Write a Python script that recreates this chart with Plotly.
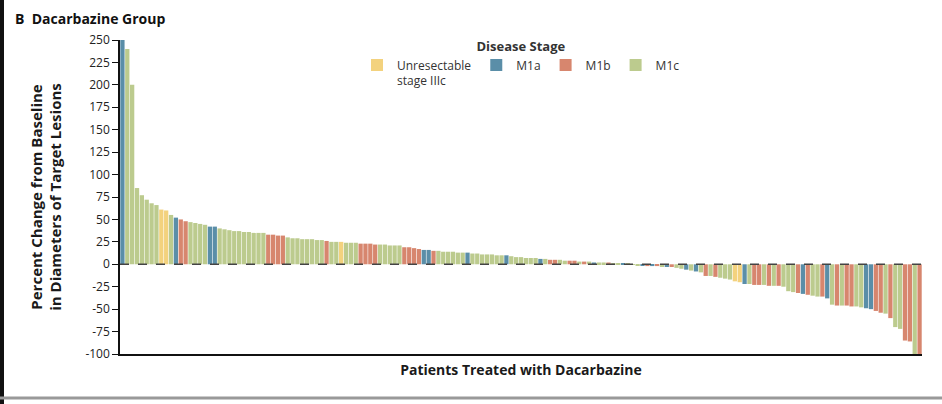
import plotly.graph_objects as go

# Percent change from baseline per patient (sorted waterfall)
values = [
    250, 240, 200, 85, 77, 72, 68, 66, 61, 60,
    55, 52, 50, 48, 47, 46, 45, 44, 42, 42,
    40, 39, 38, 37, 37, 36, 36, 35, 35, 35,
    33, 33, 32, 32, 30, 29, 29, 28, 28, 28,
    27, 27, 26, 25, 25, 25, 24, 24, 24, 23,
    23, 23, 22, 22, 22, 21, 21, 21, 19, 19,
    18, 17, 16, 16, 15, 15, 14, 14, 14, 13,
    13, 13, 12, 12, 11, 11, 11, 10, 10, 10,
    9, 8, 8, 7, 7, 7, 6, 6, 5, 5,
    5, 4, 4, 4, 3, 3, 3, 2, 2, 2,
    2, 1, 1, 1, 0.5, 0.3, -1, -1, -2, -2,
    -2, -3, -3, -3, -4, -5, -6, -7, -8, -9,
    -13, -13, -14, -15, -16, -17, -19, -20, -22, -22,
    -23, -23, -23, -24, -24, -24, -25, -30, -31, -32,
    -33, -34, -35, -36, -36, -38, -45, -46, -46, -46,
    -47, -47, -48, -49, -50, -52, -54, -55, -60, -70,
    -72, -85, -86, -100, -100,
]
# Disease stage per patient: U = unresectable IIIc, a = M1a, b = M1b, c = M1c
stages = list(
    "acccccccUU"
    "cabbccccaa"
    "cccccccccc"
    "bbbbcccccc"
    "ccbccUcccb"
    "bbbcccccbb"
    "bbaabccccc"
    "caccccccca"
    "ccccccacbb"
    "ccbbcbcacc"
    "bccacccaba"
    "bcabccacac"
    "bcbcccUUac"
    "bbcbcbcccb"
    "abccbacbcb"
    "bccaabbcbc"
    "cbbcb"
)

stage_names = ["Unresectable<br>stage IIIc", "M1a", "M1b", "M1c"]
stage_codes = ["U", "a", "b", "c"]
stage_colors = ["#f3d27e", "#5a8ea8", "#d7866e", "#bccb8e"]
color_map = dict(zip(stage_codes, stage_colors))

ytick_vals = list(range(-100, 251, 25))
ytick_text = [str(v) for v in ytick_vals]

patients = list(range(1, len(values) + 1))

fig = go.Figure()
fig.add_trace(go.Bar(
    x=patients, y=values,
    marker=dict(color=[color_map[s] for s in stages], line=dict(width=0)),
    showlegend=False, hoverinfo="skip",
))
for name, col in zip(stage_names, stage_colors):
    fig.add_trace(go.Bar(x=[None], y=[None], name=name,
                         marker=dict(color=col, line=dict(width=0))))

font_family = "Open Sans, Noto Sans, sans-serif"

fig.update_layout(
    width=942, height=404,
    margin=dict(l=120, r=20, t=40, b=50),
    paper_bgcolor="white", plot_bgcolor="white",
    barmode="overlay", bargap=0.12,
    font=dict(family=font_family, color="#1a1a1a", size=12),
    showlegend=True,
    legend=dict(
        orientation="h", x=0.5, xanchor="center", y=1.02, yanchor="top",
        title=dict(text="<b>Disease Stage</b>", side="top center",
                   font=dict(size=13)),
        font=dict(size=12, color="#333"), valign="top",
        bgcolor="rgba(0,0,0,0)", itemclick=False,
    ),
)
fig.update_xaxes(
    range=[0.5, len(values) + 0.5], showticklabels=False, ticks="",
    showgrid=False, zeroline=False, showline=True, linecolor="#111",
    linewidth=1.5,
    title=dict(text="<b>Patients Treated with Dacarbazine</b>",
               font=dict(size=14), standoff=10),
)
fig.update_yaxes(
    range=[-100, 250], tickvals=ytick_vals, ticktext=ytick_text,
    ticks="outside", ticklen=6, tickwidth=1.2, tickcolor="#111",
    showgrid=False, zeroline=False, showline=True, linecolor="#111",
    linewidth=1.5, tickfont=dict(size=12, color="#222"),
    title=dict(text="<b>Percent Change from Baseline<br>in Diameters of Target Lesions</b>",
               font=dict(size=15), standoff=20),
)
# dashed zero reference line
fig.add_hline(y=0, line=dict(color="#444", width=1.5, dash="dash"), layer="above")

fig.add_annotation(
    text="<b>B</b>  <b>Dacarbazine Group</b>", xref="paper", yref="paper",
    x=-107 / 802, y=1 + 22 / 314, xanchor="left", yanchor="middle", showarrow=False,
    font=dict(size=14, color="#111"),
)
# page frame details
fig.add_shape(type="rect", xref="paper", yref="paper",
              x0=-120 / 802, x1=-116 / 802, y0=-50 / 314, y1=1 + 40 / 314,
              fillcolor="#111", line=dict(width=0))
fig.add_shape(type="line", xref="paper", yref="paper",
              x0=-120 / 802, x1=1 + 20 / 802, y0=-44 / 314, y1=-44 / 314,
              line=dict(color="#999", width=3))

fig.write_html("out.html")
